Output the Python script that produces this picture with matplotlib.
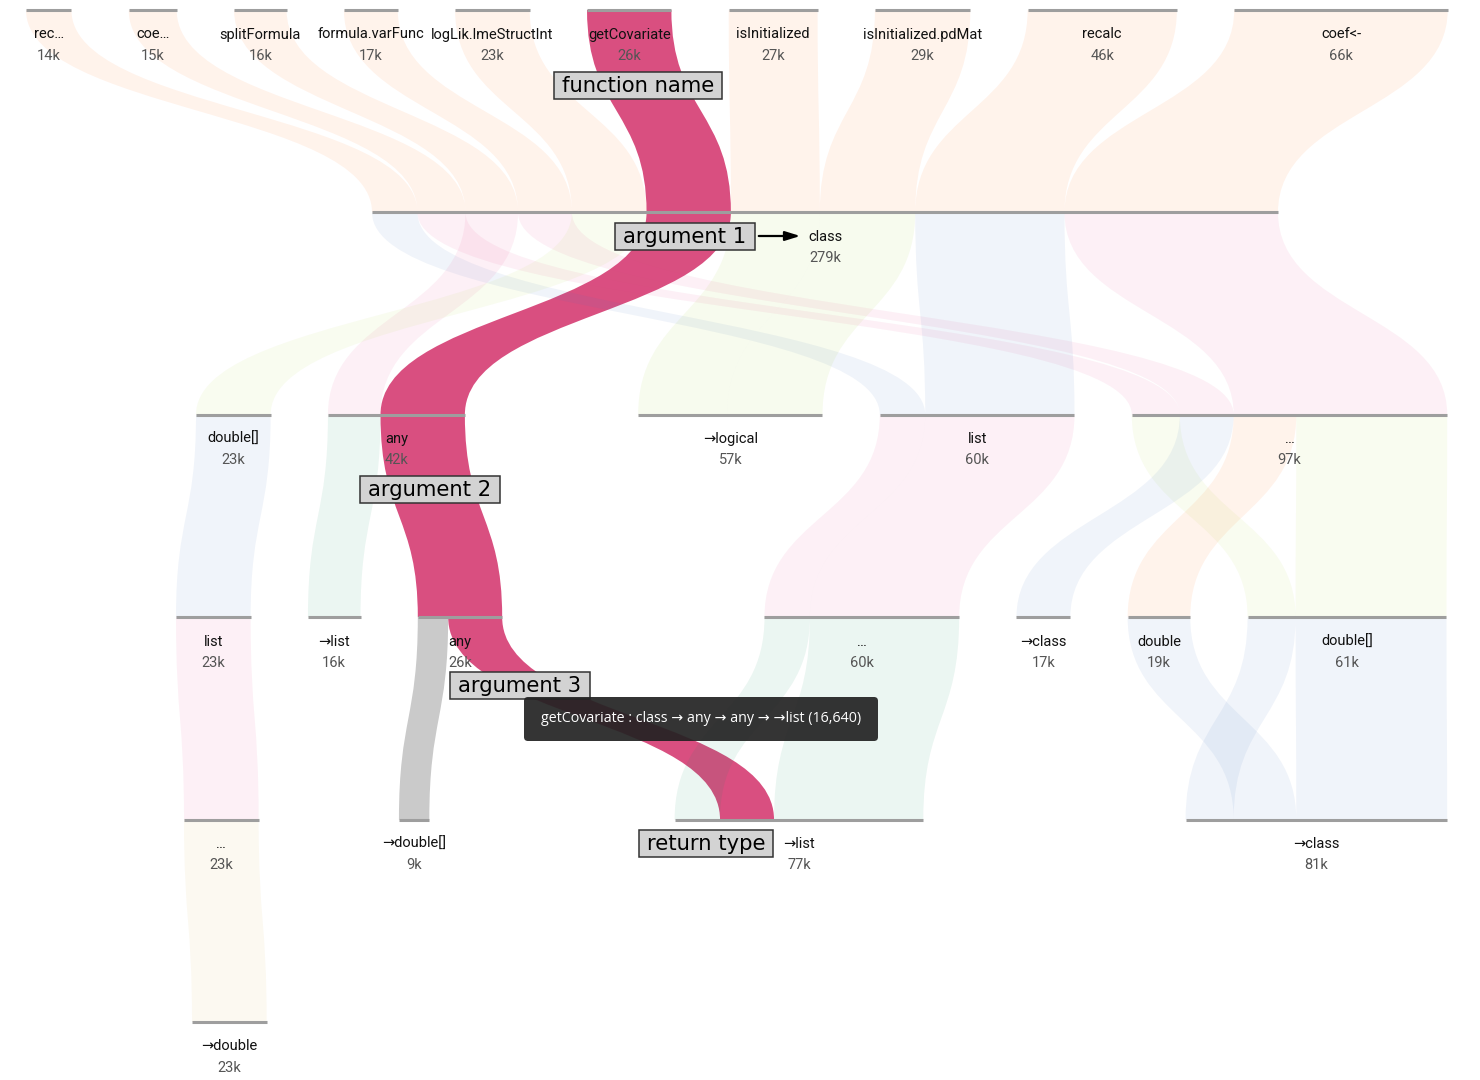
import matplotlib
matplotlib.use("Agg")
import matplotlib.pyplot as plt
from matplotlib.path import Path
from matplotlib.patches import PathPatch, FancyBboxPatch, Rectangle

plt.rcParams['font.family'] = ['Roboto', 'DejaVu Sans']

# one entry per path through the signature levels (counts in thousands)
flow_func = ["rec…", "coe…", "splitFormula", "formula.varFunc", "logLik.lmeStructInt",
             "getCovariate", "getCovariate", "isInitialized", "isInitialized.pdMat",
             "recalc", "coef<-", "coef<-"]
flow_arg1 = ["class"] * 12
flow_arg2 = ["list", "…", "any", "…", "double[]", "any", "any", "→logical", "→logical",
             "list", "…", "…"]
flow_arg3 = ["…", "double[]", "→list", "→class", "list", "any", "any", None, None,
             "…", "double", "double[]"]
flow_arg4 = ["→list", "→class", None, None, "…", "→double[]", "→list", None, None,
             "→list", "→class", "→class"]
flow_arg5 = [None, None, None, None, "→double", None, None, None, None, None, None, None]
flow_count = [14.0, 14.8, 16.2, 16.6, 23.0, 9.36, 16.64, 27.4, 29.4, 46.0, 19.3, 46.5]

level_names = ["function name", "argument 1", "argument 2", "argument 3", "return type"]
hover_text = "getCovariate : class → any → any → →list (16,640)"
hover_func = "getCovariate"

# ribbon colour, keyed by the label of the node the ribbon flows into
label_color = {
    "class": "#ff6900", "double": "#ff6900",
    "list": "#4476c1", "→class": "#4476c1",
    "…": "#e6448f", "any": "#e6448f",
    "double[]": "#b4da44", "→logical": "#9bcd2b",
    "→list": "#008f5d", "→double": "#dab450",
}
RIBBON_ALPHA = 0.08
HIGHLIGHT = "#d94f80"
HOVER_GREY = "#cacaca"

# layout
K = 3.245           # px per thousand calls
ROW_Y0, ROW_DY = 10, 202.4
GAP = 57.3
row_start = {0: 26, 1: 372, 2: 196, 3: 176, 4: 184, 5: 192}
row_extra = {2: {"→logical": 116}, 3: {"…": 205},
             4: {"→double[]": 83, "→list": 188, "→class": 205}}
row_order = {
    2: ["double[]", "any", "→logical", "list", "…"],
    3: ["list", "→list", "any", "…", "→class", "double", "double[]"],
    4: ["…", "→double[]", "→list", "→class"],
}

levels = [flow_func, flow_arg1, flow_arg2, flow_arg3, flow_arg4, flow_arg5]
n_levels = len(levels)
row_order[0] = list(dict.fromkeys(flow_func))
row_order[1] = list(dict.fromkeys(flow_arg1))
row_order[5] = [l for l in dict.fromkeys(flow_arg5) if l]

# node totals
totals = {}
for lv, labels in enumerate(levels):
    for lab, c in zip(labels, flow_count):
        if lab is not None:
            totals[(lv, lab)] = totals.get((lv, lab), 0) + c

# node positions (packed per row)
node_x = {}
for lv in range(n_levels):
    x = row_start[lv]
    for i, lab in enumerate(row_order[lv]):
        if i > 0:
            x += GAP
        x += row_extra.get(lv, {}).get(lab, 0)
        node_x[(lv, lab)] = x
        x += totals[(lv, lab)] * K

row_y = [ROW_Y0 + ROW_DY * i for i in range(n_levels)]

# slot of every flow inside each node
cursor = dict(node_x)
slot = []
for f in range(len(flow_count)):
    s = {}
    for lv in range(n_levels):
        lab = levels[lv][f]
        if lab is None:
            continue
        s[lv] = cursor[(lv, lab)]
        cursor[(lv, lab)] += flow_count[f] * K
    slot.append(s)

# ribbons, merged over flows sharing the same path prefix
ribbons = {}
for f in range(len(flow_count)):
    for lv in range(n_levels - 1):
        if lv + 1 not in slot[f]:
            continue
        key = tuple(levels[k][f] for k in range(lv + 2))
        if key not in ribbons:
            ribbons[key] = [lv, slot[f][lv], slot[f][lv + 1], 0.0, f]
        ribbons[key][3] += flow_count[f]

fig = plt.figure(figsize=(14.8, 10.8), dpi=100)
ax = fig.add_axes([0, 0, 1, 1])
ax.set_xlim(0, 1480)
ax.set_ylim(1080, 0)
ax.axis('off')


def ribbon(xs, xt, w, y0, y1, **kw):
    ym = (y0 + y1) / 2
    verts = [(xs, y0), (xs, ym), (xt, ym), (xt, y1),
             (xt + w, y1), (xt + w, ym), (xs + w, ym), (xs + w, y0), (xs, y0)]
    codes = [Path.MOVETO, Path.CURVE4, Path.CURVE4, Path.CURVE4,
             Path.LINETO, Path.CURVE4, Path.CURVE4, Path.CURVE4, Path.CLOSEPOLY]
    ax.add_patch(PathPatch(Path(verts, codes), **kw))


for key, (lv, xs, xt, cnt, f) in ribbons.items():
    w = cnt * K
    target = key[-1]
    if key[0] == hover_func:
        col = HOVER_GREY if target == "→double[]" else HIGHLIGHT
        ribbon(xs, xt, w, row_y[lv], row_y[lv + 1], facecolor=col,
               edgecolor='none', zorder=1)
    else:
        ribbon(xs, xt, w, row_y[lv], row_y[lv + 1],
               facecolor=label_color[target], alpha=RIBBON_ALPHA,
               edgecolor='none', zorder=2)

# nodes and their labels
for (lv, lab), x in node_x.items():
    w = totals[(lv, lab)] * K
    y = row_y[lv]
    ax.plot([x, x + w], [y, y], color="#9e9e9e", lw=2.2,
            solid_capstyle='butt', zorder=3)
    ax.text(x + w / 2, y + 24.5, lab, ha='center', va='center', fontsize=10.5,
            color="#111111", zorder=5)
    ax.text(x + w / 2, y + 45.5, "%dk" % round(totals[(lv, lab)]), ha='center',
            va='center', fontsize=10.5, color="#555555", zorder=5)

# level name boxes next to the hovered path
box_pos = [(638, 85), (685, 236), (430, 489), (520, 685), (706, 843)]
box_texts = []
for name, (bx, by) in zip(level_names, box_pos):
    t = ax.text(bx, by + 1, name, ha='center', va='center', fontsize=15.2,
                family='DejaVu Sans', color='black', zorder=7)
    box_texts.append(t)

fig.canvas.draw()
inv = ax.transData.inverted()
for t, (bx, by) in zip(box_texts, box_pos):
    bb = t.get_window_extent()
    (x0, _), (x1, _) = inv.transform([(bb.x0, bb.y0), (bb.x1, bb.y1)])
    ax.add_patch(Rectangle((x0 - 8, by - 13.5), (x1 - x0) + 16, 27,
                           facecolor='#d3d3d3', edgecolor='#333333', lw=1.1,
                           zorder=6))

ax.annotate("", xy=(803, 236), xytext=(756, 236),
            arrowprops=dict(arrowstyle='-|>,head_length=0.9,head_width=0.28',
                            color='black', lw=1.6), zorder=6)

# tooltip
ax.add_patch(FancyBboxPatch((524, 697), 354, 44,
                            boxstyle='round,pad=0,rounding_size=4',
                            facecolor='#222222', edgecolor='none', alpha=0.92,
                            zorder=8))
ax.text(701, 719, hover_text, ha='center', va='center', fontsize=10.3,
        family=['Open Sans', 'DejaVu Sans'], color='white', zorder=9)

fig.savefig("out.png", dpi=100, facecolor='white')
